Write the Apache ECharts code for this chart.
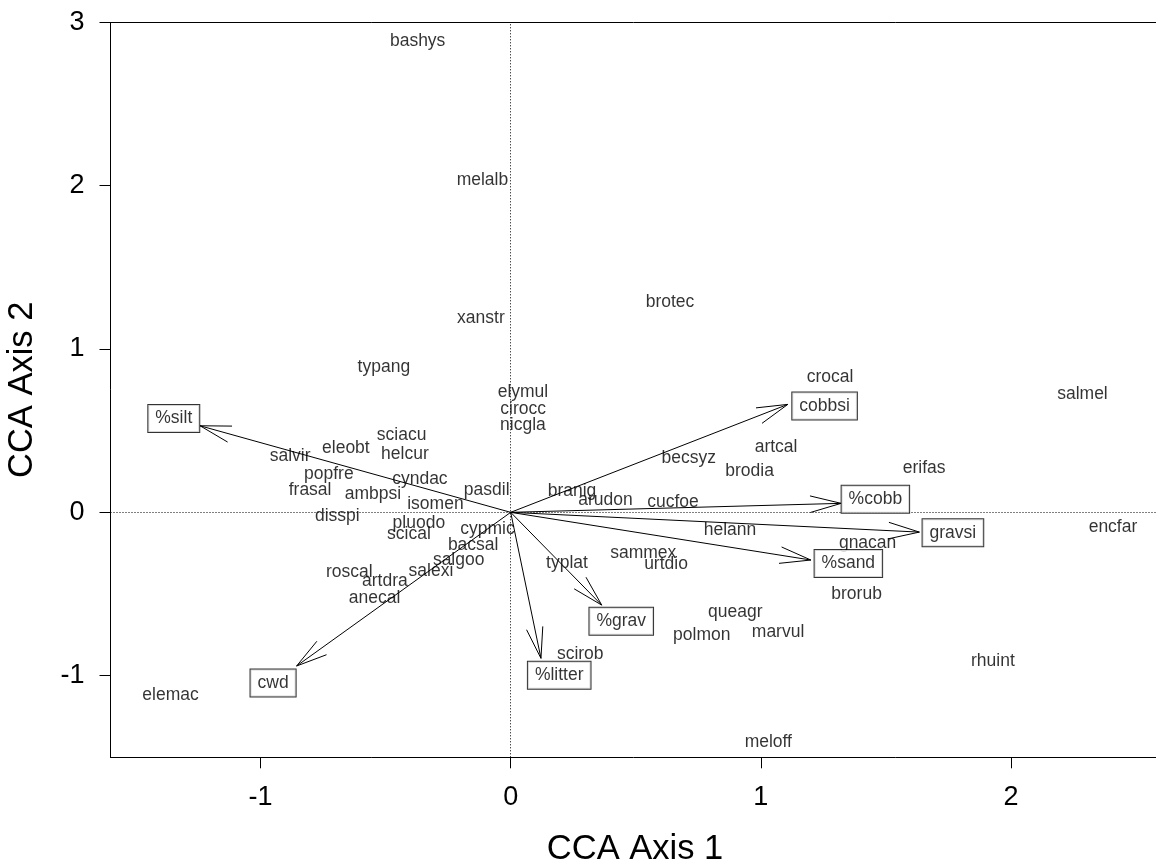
<!DOCTYPE html>
<html>
<head>
<meta charset="utf-8">
<script src="https://cdn.jsdelivr.net/npm/echarts@6/dist/echarts.min.js"></script>
<style>
html,body{margin:0;padding:0;overflow:hidden;background:#fff;}
#chart{width:1156px;height:867px;}
</style>
</head>
<body>
<div id="chart"></div>
<script>
// ---- Species scores (CCA axis 1, axis 2) ----
const species = ["bashys","melalb","brotec","xanstr","typang","elymul","cirocc","nicgla","crocal","salmel",
  "sciacu","eleobt","helcur","salvir","artcal","becsyz","popfre","brodia","erifas","cyndac",
  "pasdil","frasal","ambpsi","branig","arudon","cucfoe","isomen","disspi","pluodo","scical",
  "cypmic","helann","encfar","bacsal","gnacan","sammex","salgoo","typlat","urtdio","roscal",
  "salexi","artdra","anecal","brorub","queagr","polmon","marvul","scirob","rhuint","elemac","meloff"];
const speciesX = [-0.372,-0.113,0.637,-0.119,-0.507,0.049,0.050,0.049,1.277,2.286,
  -0.436,-0.659,-0.423,-0.882,1.061,0.712,-0.727,0.955,1.653,-0.363,
  -0.096,-0.802,-0.551,0.245,0.379,0.649,-0.301,-0.693,-0.367,-0.407,
  -0.093,0.877,2.408,-0.150,1.427,0.530,-0.208,0.225,0.621,-0.645,
  -0.319,-0.503,-0.544,1.383,0.898,0.764,1.069,0.278,1.928,-1.360,1.030];
const speciesY = [2.892,2.041,1.299,1.198,0.898,0.745,0.643,0.545,0.835,0.735,
  0.479,0.400,0.365,0.351,0.410,0.340,0.245,0.259,0.279,0.214,
  0.147,0.143,0.122,0.137,0.081,0.069,0.061,-0.017,-0.058,-0.122,
  -0.092,-0.100,-0.082,-0.194,-0.180,-0.241,-0.286,-0.303,-0.306,-0.358,
  -0.353,-0.410,-0.517,-0.492,-0.603,-0.745,-0.725,-0.857,-0.904,-1.108,-1.399];

// ---- Environmental vectors ----
const envNames  = ["%silt","cobbsi","%cobb","gravsi","%sand","%grav","%litter","cwd"];
const envArrowX = [-1.242, 1.108, 1.321, 1.634, 1.200, 0.364, 0.121, -0.856];
const envArrowY = [ 0.530, 0.661, 0.055,-0.121,-0.292,-0.568,-0.894, -0.941];
const envLabelX = [-1.347, 1.255, 1.458, 1.768, 1.350, 0.442, 0.194, -0.950];
const envLabelY = [ 0.581, 0.657, 0.086,-0.119,-0.307,-0.661,-0.992, -1.039];

// ---- Axes ----
const xTicks = [-1, 0, 1, 2];
const yTicks = [-1, 0, 1, 2, 3];
const xRange = [-1.6, 2.594];
const yRange = [-1.5, 3];

const FONT = '"Liberation Sans", Arial, Helvetica, sans-serif';
const chart = echarts.init(document.getElementById('chart'), null, {renderer:'canvas'});

const speciesData = species.map((n,i)=>({name:n, value:[speciesX[i], speciesY[i]]}));
const envArrowData = envNames.map((n,i)=>({name:n, value:[envArrowX[i], envArrowY[i]]}));
const envLabelData = envNames.map((n,i)=>({name:n, value:[envLabelX[i], envLabelY[i]]}));

const HEAD_LEN = 32, HEAD_ANG = 15*Math.PI/180;
const AXLINE = {show:true, onZero:false, lineStyle:{color:'#000', width:1}};

chart.setOption({
  animation:false,
  backgroundColor:'#fff',
  grid:{left:110.5, right:-3.5, top:22.4, bottom:109.7, outerBoundsMode:'none', containLabel:false, show:false},
  xAxis:[{
    type:'value', position:'bottom', min:xRange[0], max:xRange[1],
    name:'CCA Axis 1', nameLocation:'middle', nameGap:75,
    nameTextStyle:{fontFamily:FONT, fontSize:34.5, color:'#000'},
    axisLine:AXLINE,
    splitLine:{show:false},
    axisTick:{show:true, inside:false, length:11, lineStyle:{color:'#000', width:1}, customValues:xTicks},
    axisLabel:{show:true, margin:27, fontFamily:FONT, fontSize:27, color:'#000', customValues:xTicks, formatter:v=>String(v)}
  },{
    type:'value', position:'top', min:xRange[0], max:xRange[1],
    axisLine:AXLINE, axisTick:{show:false}, axisLabel:{show:false}, splitLine:{show:false}
  }],
  yAxis:{
    type:'value', position:'left', min:yRange[0], max:yRange[1],
    name:'CCA Axis 2', nameLocation:'middle', nameGap:71, nameRotate:90,
    nameTextStyle:{fontFamily:FONT, fontSize:34.5, color:'#000'},
    axisLine:AXLINE,
    splitLine:{show:false},
    axisTick:{show:true, inside:false, length:11, lineStyle:{color:'#000', width:1}, customValues:yTicks},
    axisLabel:{show:true, margin:26, fontFamily:FONT, fontSize:27, color:'#000', customValues:yTicks, formatter:v=>String(v)}
  },
  series:[
    {
      type:'scatter', name:'species', data:speciesData,
      symbol:'circle', symbolSize:1, itemStyle:{color:'rgba(0,0,0,0)'},
      label:{show:true, position:'inside', offset:[0,1.5], formatter:p=>p.name, fontFamily:FONT, fontSize:17.5, color:'#000'},
      markLine:{
        silent:true, symbol:['none','none'], animation:false,
        label:{show:false},
        lineStyle:{type:[1,2], color:'#000', width:1},
        data:[{xAxis:0},{yAxis:0}]
      },
      z:3
    },
    {
      type:'custom', name:'arrows', data:envArrowData,
      renderItem:function(params, api){
        const tip = api.coord([api.value(0), api.value(1)]);
        const o = api.coord([0,0]);
        const ang = Math.atan2(o[1]-tip[1], o[0]-tip[0]);
        const h1 = [tip[0]+HEAD_LEN*Math.cos(ang+HEAD_ANG), tip[1]+HEAD_LEN*Math.sin(ang+HEAD_ANG)];
        const h2 = [tip[0]+HEAD_LEN*Math.cos(ang-HEAD_ANG), tip[1]+HEAD_LEN*Math.sin(ang-HEAD_ANG)];
        const st = {stroke:'#000', lineWidth:1, fill:null};
        return {type:'group', children:[
          {type:'line', shape:{x1:o[0],y1:o[1],x2:tip[0],y2:tip[1]}, style:st},
          {type:'polyline', shape:{points:[h1, tip, h2]}, style:st}
        ]};
      },
      z:4
    },
    {
      type:'scatter', name:'env', data:envLabelData,
      symbol:'circle', symbolSize:1, itemStyle:{color:'rgba(0,0,0,0)'},
      label:{show:true, position:'inside', offset:[0,1], formatter:p=>p.name, fontFamily:FONT, fontSize:17.5, color:'#000',
        backgroundColor:'#fff', borderColor:'#000', borderWidth:1, padding:[4.5,7,4.5,7]},
      z:5
    }
  ]
});
</script>
</body>
</html>
